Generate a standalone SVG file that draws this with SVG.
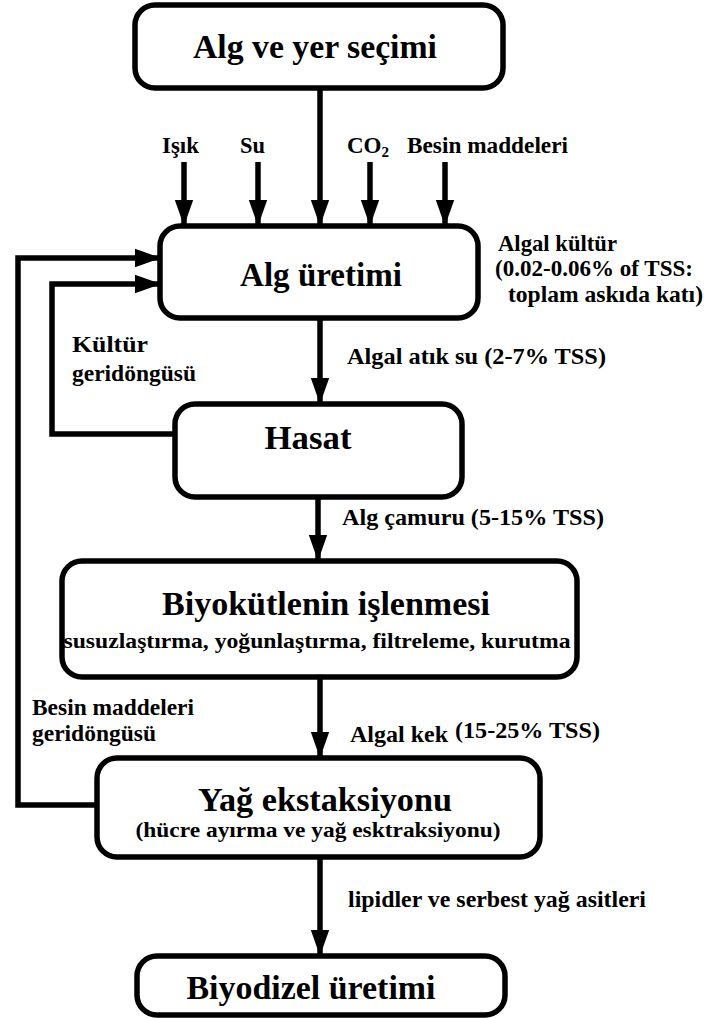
<svg xmlns="http://www.w3.org/2000/svg" width="707" height="1018" viewBox="0 0 707 1018">
<style>
.box{fill:#fff;stroke:#000;stroke-width:5.5}
.t{font-family:'Liberation Serif','Times New Roman',serif;font-weight:700;fill:#000}
.big{font-size:34px;text-anchor:middle}
.mid{font-size:23px}
.sub{font-size:22px;text-anchor:middle}
.ln{fill:none;stroke:#000;stroke-width:5.5}
</style>
<defs>
<marker id="ah" markerUnits="userSpaceOnUse" markerWidth="26" markerHeight="36" refX="34" refY="12" viewBox="0 0 34 24" orient="auto">
<path d="M0,0 L34,12 L0,24 Z" fill="#000"/>
</marker>
</defs>
<g id="connectors">
<line class="ln" x1="320" y1="88" x2="320" y2="226" marker-end="url(#ah)"/>
<line class="ln" x1="184" y1="162" x2="184" y2="226" marker-end="url(#ah)"/>
<line class="ln" x1="258" y1="162" x2="258" y2="226" marker-end="url(#ah)"/>
<line class="ln" x1="370" y1="162" x2="370" y2="226" marker-end="url(#ah)"/>
<line class="ln" x1="445" y1="162" x2="445" y2="226" marker-end="url(#ah)"/>
<line class="ln" x1="320" y1="318" x2="320" y2="404" marker-end="url(#ah)"/>
<line class="ln" x1="318" y1="497" x2="318" y2="561" marker-end="url(#ah)"/>
<line class="ln" x1="320" y1="677" x2="320" y2="758" marker-end="url(#ah)"/>
<line class="ln" x1="320" y1="857" x2="320" y2="956" marker-end="url(#ah)"/>
<polyline class="ln" points="97,805 18,805 18,258 161,258" marker-end="url(#ah)"/>
<polyline class="ln" points="175,434 52,434 52,284 161,284" marker-end="url(#ah)"/>
<text class="t mid" x="162" y="153" textLength="37" lengthAdjust="spacingAndGlyphs">Işık</text>
<text class="t mid" x="240" y="153" textLength="25" lengthAdjust="spacingAndGlyphs">Su</text>
<text class="t mid" x="347" y="153">CO<tspan font-size="15" dy="4">2</tspan></text>
<text class="t mid" x="407" y="153" textLength="161" lengthAdjust="spacingAndGlyphs">Besin maddeleri</text>
<text class="t mid" x="498" y="251" textLength="119" lengthAdjust="spacingAndGlyphs">Algal kültür</text>
<text class="t mid" x="495" y="276" textLength="198" lengthAdjust="spacingAndGlyphs">(0.02-0.06% of TSS:</text>
<text class="t mid" x="508" y="302" textLength="195" lengthAdjust="spacingAndGlyphs">toplam askıda katı)</text>
<text class="t mid" x="347" y="364" textLength="259" lengthAdjust="spacingAndGlyphs">Algal atık su  (2-7% TSS)</text>
<text class="t mid" x="72" y="352" textLength="76" lengthAdjust="spacingAndGlyphs">Kültür</text>
<text class="t mid" x="72" y="381" textLength="124" lengthAdjust="spacingAndGlyphs">geridöngüsü</text>
<text class="t mid" x="342" y="525" textLength="262" lengthAdjust="spacingAndGlyphs">Alg çamuru  (5-15% TSS)</text>
<text class="t mid" x="350" y="742" textLength="98" lengthAdjust="spacingAndGlyphs">Algal kek</text>
<text class="t mid" x="455" y="738" textLength="145" lengthAdjust="spacingAndGlyphs">(15-25% TSS)</text>
<text class="t mid" x="32" y="715" textLength="162" lengthAdjust="spacingAndGlyphs">Besin maddeleri</text>
<text class="t mid" x="32" y="741" textLength="124" lengthAdjust="spacingAndGlyphs">geridöngüsü</text>
<text class="t mid" x="348" y="907" textLength="298" lengthAdjust="spacingAndGlyphs">lipidler ve serbest yağ asitleri</text>
</g>
<g id="n1"><rect class="box" x="135" y="5" width="368" height="83" rx="20"/><text class="t big" x="315" y="58" textLength="244" lengthAdjust="spacingAndGlyphs">Alg ve yer seçimi</text></g>
<g id="n2"><rect class="box" x="160" y="226" width="318" height="92" rx="20"/><text class="t big" x="321" y="286" textLength="162" lengthAdjust="spacingAndGlyphs">Alg üretimi</text></g>
<g id="n3"><rect class="box" x="175" y="404" width="287" height="93" rx="20"/><text class="t big" x="308" y="449" textLength="87" lengthAdjust="spacingAndGlyphs">Hasat</text></g>
<g id="n4"><rect class="box" x="62" y="561" width="515" height="116" rx="20"/><text class="t big" x="326" y="615" textLength="328" lengthAdjust="spacingAndGlyphs">Biyokütlenin işlenmesi</text><text class="t sub" x="317" y="648" textLength="507" lengthAdjust="spacingAndGlyphs">susuzlaştırma, yoğunlaştırma, filtreleme, kurutma</text></g>
<g id="n5"><rect class="box" x="97" y="758" width="443" height="99" rx="20"/><text class="t big" x="325" y="811" textLength="254" lengthAdjust="spacingAndGlyphs">Yağ ekstaksiyonu</text><text class="t sub" x="318" y="837" textLength="365" lengthAdjust="spacingAndGlyphs">(hücre ayırma ve yağ esktraksiyonu)</text></g>
<g id="n6"><rect class="box" x="137" y="956" width="368" height="59" rx="20"/><text class="t big" x="311" y="999" textLength="249" lengthAdjust="spacingAndGlyphs">Biyodizel üretimi</text></g>
</svg>
